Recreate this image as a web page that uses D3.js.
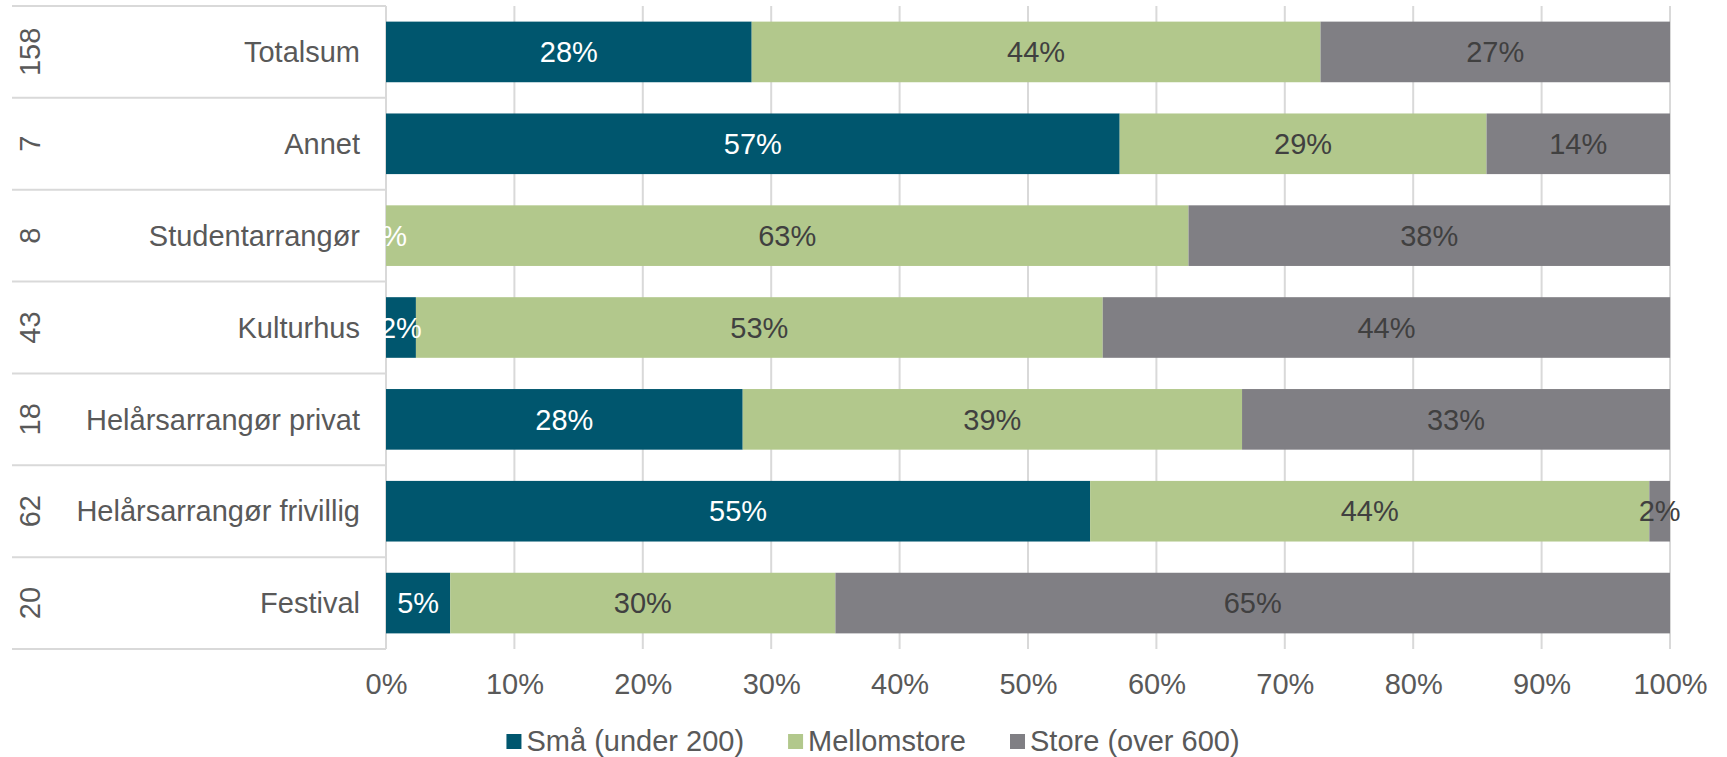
<!DOCTYPE html>
<html>
<head>
<meta charset="utf-8">
<script src="https://cdn.jsdelivr.net/npm/d3@7"></script>
<style>
  body { margin: 0; background: #fff; }
  svg text { font-family: Arial, 'Liberation Sans', sans-serif; }
</style>
</head>
<body>
<div id="chart"></div>
<script>
// categories top to bottom, with respondent counts
const categories = ['Totalsum', 'Annet', 'Studentarrangør', 'Kulturhus',
  'Helårsarrangør privat', 'Helårsarrangør frivillig', 'Festival'];
const counts = [158, 7, 8, 43, 18, 62, 20];

const seriesNames = ['Små (under 200)', 'Mellomstore', 'Store (over 600)'];
const smaa = [28.48, 57.14, 0, 2.33, 27.78, 54.84, 5.0];
const mellom = [44.30, 28.57, 62.5, 53.49, 38.89, 43.55, 30.0];
const store = [27.22, 14.29, 37.5, 44.19, 33.33, 1.61, 65.0];

const xTicks = [0, 10, 20, 30, 40, 50, 60, 70, 80, 90, 100];

const colors = ['#00566e', '#b2c88c', '#807f84'];
const labelColors = ['#ffffff', '#404040', '#404040'];

const W = 1727, H = 757;
const plot = { left: 386, right: 1670, top: 6, bottom: 649 };
const fontSize = 29;
const textColor = '#595959';
const gridColor = '#d9d9d9';

const svg = d3.select('#chart').append('svg')
  .attr('width', W)
  .attr('height', H);

const x = d3.scaleLinear().domain([0, 100]).range([plot.left, plot.right]);

const pad = 0.34;
const y = d3.scaleBand()
  .domain(categories)
  .range([plot.top, plot.bottom])
  .paddingInner(pad)
  .paddingOuter(pad / 2);

const step = y.step();

// vertical gridlines
svg.append('g')
  .selectAll('line')
  .data(xTicks)
  .enter()
  .append('line')
  .attr('x1', d => x(d))
  .attr('x2', d => x(d))
  .attr('y1', plot.top)
  .attr('y2', plot.bottom)
  .attr('stroke', gridColor)
  .attr('stroke-width', 2);

// row lines in the left category area
const rowEdges = categories.map(c => y(c) - step * pad / 2).concat([plot.bottom]);
svg.append('g')
  .selectAll('line')
  .data(rowEdges)
  .enter()
  .append('line')
  .attr('x1', 12)
  .attr('x2', plot.left)
  .attr('y1', d => d)
  .attr('y2', d => d)
  .attr('stroke', gridColor)
  .attr('stroke-width', 2);

// stacked data
const rows = categories.map((c, i) => ({ cat: c, vals: [smaa[i], mellom[i], store[i]] }));
const segs = [];
rows.forEach(r => {
  let acc = 0;
  r.vals.forEach((v, k) => {
    segs.push({ cat: r.cat, k: k, x0: acc, x1: acc + v, v: v });
    acc += v;
  });
});

// Bars
svg.append('g')
  .selectAll('rect')
  .data(segs)
  .enter()
  .append('rect')
  .attr('x', d => x(d.x0))
  .attr('width', d => x(d.x1) - x(d.x0))
  .attr('y', d => y(d.cat))
  .attr('height', y.bandwidth())
  .attr('fill', d => colors[d.k]);

// bar labels
svg.append('g')
  .selectAll('text')
  .data(segs)
  .enter()
  .append('text')
  .attr('x', d => (x(d.x0) + x(d.x1)) / 2)
  .attr('y', d => y(d.cat) + y.bandwidth() / 2)
  .attr('dy', '0.35em')
  .attr('text-anchor', 'middle')
  .attr('font-size', fontSize)
  .attr('fill', d => labelColors[d.k])
  .text(d => Math.round(d.v) + '%');

// category labels
svg.append('g')
  .selectAll('text')
  .data(categories)
  .enter()
  .append('text')
  .attr('x', 360)
  .attr('y', d => y(d) + y.bandwidth() / 2)
  .attr('dy', '0.35em')
  .attr('text-anchor', 'end')
  .attr('font-size', fontSize)
  .attr('fill', textColor)
  .text(d => d);

// counts, rotated
svg.append('g')
  .selectAll('text')
  .data(categories)
  .enter()
  .append('text')
  .attr('transform', d => `translate(30, ${y(d) + y.bandwidth() / 2}) rotate(-90)`)
  .attr('dy', '0.35em')
  .attr('text-anchor', 'middle')
  .attr('font-size', fontSize)
  .attr('fill', textColor)
  .text((d, i) => counts[i]);

// X Axis
const xAxis = svg.append('g')
  .attr('transform', `translate(0, ${plot.bottom})`)
  .call(d3.axisBottom(x).tickValues(xTicks).tickSize(0).tickPadding(24).tickFormat(d => d + '%'));
xAxis.select('.domain').remove();
xAxis.selectAll('text')
  .attr('font-size', fontSize)
  .attr('font-family', "Arial, 'Liberation Sans', sans-serif")
  .attr('fill', textColor);

// legend
const legend = svg.append('g');
const legendItems = legend.selectAll('g')
  .data(seriesNames)
  .enter()
  .append('g');
legendItems.append('rect')
  .attr('width', 15)
  .attr('height', 15)
  .attr('y', 734)
  .attr('fill', (d, i) => colors[i]);
legendItems.append('text')
  .attr('x', 20)
  .attr('y', 741)
  .attr('dy', '0.35em')
  .attr('font-size', fontSize)
  .attr('fill', textColor)
  .text(d => d);

const gap = 44;
let lx = 0;
legendItems.each(function () {
  const w = this.getBBox().width;
  d3.select(this).attr('transform', `translate(${lx}, 0)`);
  lx += w + gap;
});
const totalW = lx - gap;
legend.attr('transform', `translate(${873 - totalW / 2}, 0)`);
</script>
</body>
</html>
